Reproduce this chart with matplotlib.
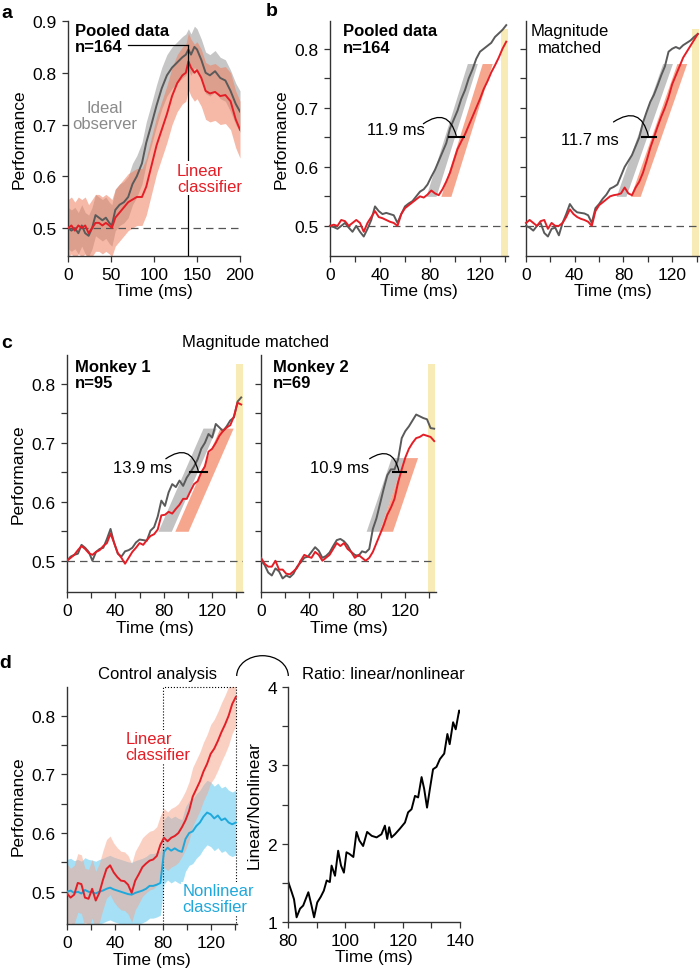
import numpy as np
import matplotlib
matplotlib.use("Agg")
import matplotlib.pyplot as plt
from matplotlib.patches import Arc

plt.rcParams['font.family'] = ['Liberation Sans', 'DejaVu Sans']
plt.rcParams['font.size'] = 12

# ---------------- data ----------------
# a: pooled data, 0-200 ms
a_t = [0, 4, 8, 12, 16, 20, 24, 28, 32, 36, 40, 44, 48, 51, 55, 60, 65, 70, 75, 80,
       86, 91, 97, 103, 109, 115, 121, 127, 133, 137, 140, 143, 147, 150,
       155, 160, 165, 171, 177, 183, 189, 195, 200]
a_ideal = [0.500, 0.495, 0.500, 0.490, 0.505, 0.490, 0.485, 0.500, 0.525, 0.520,
           0.515, 0.520, 0.510, 0.505, 0.535, 0.545, 0.550, 0.560, 0.585, 0.600,
           0.625, 0.665, 0.700, 0.737, 0.770, 0.795, 0.810, 0.820, 0.830, 0.835,
           0.845, 0.835, 0.850, 0.845, 0.825, 0.800, 0.795, 0.803, 0.790, 0.785,
           0.765, 0.740, 0.725]
a_linear = [0.500, 0.505, 0.495, 0.505, 0.500, 0.505, 0.490, 0.500, 0.510, 0.510,
            0.505, 0.510, 0.505, 0.500, 0.520, 0.530, 0.540, 0.550, 0.555, 0.560,
            0.560, 0.580, 0.620, 0.660, 0.690, 0.720, 0.755, 0.780, 0.795, 0.800,
            0.822, 0.810, 0.800, 0.805, 0.790, 0.765, 0.760, 0.763, 0.755, 0.757,
            0.745, 0.710, 0.690]
a_ideal_ci = 0.04
a_linear_ci = 0.055
a_peak = 0.854

# b: 0-141 ms
b_t = list(range(0, 144, 3))
b_ideal_pooled = [0.500, 0.498, 0.495, 0.500, 0.505, 0.497, 0.490, 0.500, 0.490, 0.482,
                  0.495, 0.510, 0.533, 0.525, 0.520, 0.522, 0.520, 0.518, 0.505, 0.520,
                  0.533, 0.538, 0.542, 0.550, 0.558, 0.562, 0.570, 0.583, 0.595, 0.610,
                  0.625, 0.640, 0.665, 0.680, 0.695, 0.715, 0.730, 0.750, 0.765, 0.783,
                  0.795, 0.800, 0.805, 0.810, 0.820, 0.826, 0.832, 0.840]
b_linear_pooled = [0.500, 0.502, 0.500, 0.510, 0.508, 0.500, 0.505, 0.510, 0.505, 0.490,
                   0.505, 0.515, 0.525, 0.515, 0.513, 0.510, 0.507, 0.505, 0.500, 0.520,
                   0.530, 0.535, 0.540, 0.545, 0.550, 0.548, 0.553, 0.560, 0.555, 0.552,
                   0.562, 0.575, 0.590, 0.610, 0.630, 0.643, 0.655, 0.670, 0.685, 0.700,
                   0.715, 0.732, 0.745, 0.760, 0.772, 0.785, 0.800, 0.812]
b_ideal_matched = [0.500, 0.497, 0.492, 0.500, 0.505, 0.488, 0.482, 0.495, 0.497, 0.484,
                   0.505, 0.520, 0.537, 0.528, 0.523, 0.522, 0.521, 0.518, 0.505, 0.530,
                   0.537, 0.546, 0.553, 0.563, 0.566, 0.570, 0.585, 0.600, 0.610, 0.620,
                   0.635, 0.650, 0.675, 0.693, 0.710, 0.722, 0.738, 0.755, 0.770, 0.795,
                   0.800, 0.803, 0.800, 0.806, 0.810, 0.814, 0.820, 0.825]
b_linear_matched = [0.505, 0.510, 0.505, 0.500, 0.508, 0.510, 0.495, 0.505, 0.500, 0.500,
                    0.505, 0.515, 0.528, 0.520, 0.515, 0.512, 0.510, 0.507, 0.500, 0.525,
                    0.535, 0.540, 0.545, 0.550, 0.552, 0.553, 0.555, 0.565, 0.555, 0.552,
                    0.565, 0.575, 0.590, 0.610, 0.632, 0.650, 0.668, 0.685, 0.700, 0.718,
                    0.740, 0.755, 0.770, 0.785, 0.795, 0.805, 0.815, 0.825]
# latency fits: (ideal time at 0.65, lag, slope, y from, y to, half width)
b_fit_pooled = (95.5, 11.9, 0.0068, 0.55, 0.775, 4.0)
b_fit_matched = (95.0, 11.7, 0.0059, 0.55, 0.775, 4.0)

# c: monkeys, 0-144 ms
c_t = list(range(0, 147, 3))
c_ideal_m1 = [0.500, 0.507, 0.510, 0.512, 0.527, 0.522, 0.515, 0.500, 0.515, 0.520,
              0.522, 0.537, 0.554, 0.530, 0.512, 0.507, 0.516, 0.518, 0.522, 0.531,
              0.536, 0.535, 0.534, 0.551, 0.557, 0.575, 0.602, 0.593, 0.616, 0.630,
              0.625, 0.636, 0.627, 0.641, 0.650, 0.660, 0.672, 0.690, 0.700, 0.715,
              0.709, 0.732, 0.726, 0.720, 0.728, 0.738, 0.743, 0.770, 0.777]
c_linear_m1 = [0.500, 0.505, 0.510, 0.518, 0.525, 0.520, 0.513, 0.510, 0.515, 0.518,
               0.525, 0.530, 0.546, 0.530, 0.513, 0.505, 0.495, 0.505, 0.515, 0.522,
               0.530, 0.527, 0.535, 0.542, 0.545, 0.553, 0.577, 0.578, 0.583, 0.580,
               0.588, 0.595, 0.605, 0.605, 0.618, 0.630, 0.635, 0.650, 0.660, 0.685,
               0.690, 0.700, 0.712, 0.720, 0.726, 0.730, 0.745, 0.768, 0.765]
c_ideal_m2 = [0.500, 0.493, 0.480, 0.475, 0.487, 0.482, 0.470, 0.475, 0.472, 0.478,
              0.490, 0.497, 0.505, 0.507, 0.515, 0.523, 0.517, 0.505, 0.508, 0.514,
              0.525, 0.535, 0.537, 0.533, 0.526, 0.515, 0.510, 0.508, 0.516, 0.514,
              0.520, 0.554, 0.572, 0.597, 0.622, 0.645, 0.655, 0.655, 0.672, 0.708,
              0.720, 0.728, 0.738, 0.748, 0.745, 0.742, 0.740, 0.725, 0.724]
c_linear_m2 = [0.505, 0.495, 0.490, 0.490, 0.500, 0.485, 0.485, 0.478, 0.477, 0.482,
               0.488, 0.500, 0.510, 0.507, 0.505, 0.515, 0.510, 0.500, 0.505, 0.510,
               0.520, 0.530, 0.525, 0.530, 0.520, 0.515, 0.505, 0.510, 0.505, 0.500,
               0.505, 0.515, 0.530, 0.545, 0.560, 0.578, 0.590, 0.605, 0.633, 0.655,
               0.675, 0.690, 0.700, 0.708, 0.710, 0.714, 0.712, 0.710, 0.703]
c_fit_m1 = (102.0, 13.9, 0.0047, 0.55, 0.725, 5.5)
c_fit_m2 = (109.6, 10.9, 0.0060, 0.55, 0.675, 5.5)

# d: control analysis, 0-141 ms
d_t = list(range(0, 144, 3))
d_linear = [0.497, 0.490, 0.495, 0.515, 0.513, 0.490, 0.488, 0.505, 0.485, 0.498,
            0.520, 0.539, 0.545, 0.533, 0.525, 0.519, 0.518, 0.512, 0.498, 0.519,
            0.530, 0.542, 0.548, 0.553, 0.555, 0.561, 0.580, 0.592, 0.586, 0.592,
            0.595, 0.600, 0.610, 0.622, 0.638, 0.662, 0.675, 0.688, 0.705, 0.718,
            0.735, 0.744, 0.757, 0.772, 0.785, 0.800, 0.820, 0.832]
d_nonlinear = [0.500, 0.502, 0.498, 0.500, 0.497, 0.503, 0.500, 0.499, 0.497, 0.500,
               0.502, 0.505, 0.507, 0.504, 0.502, 0.500, 0.498, 0.496, 0.495, 0.498,
               0.500, 0.502, 0.505, 0.510, 0.510, 0.512, 0.515, 0.568, 0.575, 0.570,
               0.574, 0.570, 0.568, 0.590, 0.600, 0.603, 0.612, 0.618, 0.628, 0.635,
               0.632, 0.625, 0.630, 0.622, 0.625, 0.618, 0.615, 0.618]
d_linear_ci = 0.05
d_nonlinear_ci = 0.055

ratio_t = [80.1, 81.3, 82.1, 83.0, 84.2, 85.3, 87.1, 88.2, 89.1, 90.2, 91.4, 92.5,
           93.5, 94.6, 95.2, 96.4, 97.5, 98.5, 99.5, 100.4, 101.4, 102.8, 103.9,
           104.9, 106.2, 107.6, 109.2, 110.9, 112.6, 113.8, 114.6, 115.3, 116.1,
           117.3, 119.0, 120.8, 121.9, 123.1, 124.3, 125.4, 126.6, 127.5, 128.5,
           129.5, 130.6, 131.8, 133.0, 134.5, 135.6, 136.4, 137.6, 138.5, 139.7, 140.0]
ratio = [1.51, 1.38, 1.29, 1.06, 1.17, 1.21, 1.38, 1.21, 1.06, 1.25, 1.32, 1.40,
         1.53, 1.51, 1.72, 1.59, 1.91, 1.72, 1.63, 1.89, 1.87, 1.83, 2.15, 2.04,
         1.97, 2.15, 2.10, 2.08, 2.12, 2.23, 2.06, 2.21, 2.08, 2.12, 2.19, 2.27,
         2.40, 2.44, 2.61, 2.59, 2.85, 2.70, 2.46, 2.70, 2.95, 2.98, 3.08, 3.15,
         3.40, 3.27, 3.55, 3.46, 3.70, 3.68]

# ---------------- styling ----------------
GRAY_LINE = '#5a5a5a'
RED = '#e41e26'
BLUE = '#1fa8dc'
YELLOW = '#f8ebb5'

W, H = 700.0, 970.0
fig = plt.figure(figsize=(7, 9.7), dpi=100)


def new_ax(x0, y0, x1, y1):
    return fig.add_axes([x0 / W, 1 - y1 / H, (x1 - x0) / W, (y1 - y0) / H])


def setup(ax, xlim, ylim, xmaj, ymaj, xmin=(), ymin=(), fmt='{:.1f}', show_y=True):
    ax.spines['top'].set_visible(False)
    ax.spines['right'].set_visible(False)
    for s in ('left', 'bottom'):
        ax.spines[s].set_linewidth(1.0)
        ax.spines[s].set_color('#333333')
    ax.set_xlim(*xlim)
    ax.set_ylim(*ylim)
    ax.set_xticks(xmaj)
    ax.set_xticklabels([str(v) for v in xmaj])
    ax.set_xticks(list(xmin), minor=True)
    ax.set_yticks(ymaj)
    ax.set_yticklabels([fmt.format(v) for v in ymaj])
    ax.set_yticks(list(ymin), minor=True)
    ax.tick_params(which='both', direction='out', length=4, width=0.9,
                   color='#333333', labelsize=12.5, pad=4)
    if not show_y:
        ax.tick_params(labelleft=False)
    ax.set_xlabel('Time (ms)', labelpad=1, fontsize=12.5)


def lag_fit(ax, fit):
    mid, lag, slope, ylo, yhi, hw = fit
    y = np.array([ylo, yhi])
    xg = mid + (y - 0.65) / slope
    ax.fill_betweenx(y, xg - hw, xg + hw, color='#c2c2c2', lw=0, zorder=1)
    ax.fill_betweenx(y, xg + lag - hw, xg + lag + hw, color='#f7a68e', lw=0, zorder=1)
    ax.plot([mid, mid + lag], [0.65, 0.65], color='k', lw=1.5, zorder=5)
    return mid + lag / 2


def yellow(ax, x0, x1, ybot):
    ax.fill_between([x0, x1], ybot, 0.834, color=YELLOW, lw=0, zorder=0)


def lag_label(ax, label, txy, start, end):
    ax.text(txy[0], txy[1], label, ha='center', va='center', fontsize=12, zorder=6)
    ax.annotate('', xy=end, xytext=start,
                arrowprops=dict(arrowstyle='-', color='k', lw=0.9, shrinkA=0, shrinkB=0,
                                connectionstyle='arc3,rad=-0.7'))


minor_t = [20, 60, 100, 140]
perf_ticks = [0.5, 0.6, 0.7, 0.8]
perf_minor = [0.55, 0.65, 0.75]

# ---------------- panel a ----------------
ax = new_ax(68, 22, 240, 257)
ylo = 0.446
setup(ax, (0, 200), (ylo, 0.9), [0, 50, 100, 150, 200], [0.5, 0.6, 0.7, 0.8, 0.9])
t = np.array(a_t)
gi = np.array(a_ideal)
li = np.array(a_linear)
ax.fill_between(t, gi - a_ideal_ci, gi + a_ideal_ci, color='#c6c6c6', lw=0, zorder=1)
ax.fill_between(t, li - a_linear_ci, li + a_linear_ci, color='#ef7f5f', alpha=0.55,
                lw=0, zorder=1)
ax.axhline(0.5, color='#555555', lw=0.9, dashes=(6, 4), zorder=2)
ax.plot(t, gi, color=GRAY_LINE, lw=1.4, zorder=3)
ax.plot(t, li, color=RED, lw=1.4, zorder=3)
ax.plot([140, 140], [ylo, a_peak], color='k', lw=0.9, zorder=4)
ax.plot([70, 140], [a_peak, a_peak], color='k', lw=0.9, zorder=4)
ax.set_ylabel('Performance', labelpad=4, fontsize=12.5)
ax.text(8, 0.897, 'Pooled data\nn=164', fontweight='bold', va='top', ha='left',
        linespacing=1.1)
ax.text(43, 0.717, 'Ideal\nobserver', color='#8a8a8a', ha='center', va='center',
        linespacing=1.1)
ax.text(126.5, 0.596, 'Linear\nclassifier', color=RED, ha='left', va='center',
        linespacing=1.1, zorder=6,
        bbox=dict(facecolor='white', edgecolor='none', pad=1))

# ---------------- panel b ----------------
b_ylim = (0.449, 0.847)
for x0, x1, gi, li, fit, lab, txt, start, show in [
        (330, 507.5, b_ideal_pooled, b_linear_pooled, b_fit_pooled, '11.9 ms',
         (53, 0.664), (74.7, 0.673), True),
        (526, 699, b_ideal_matched, b_linear_matched, b_fit_matched, '11.7 ms',
         (52.6, 0.647), (71.8, 0.676), False)]:
    ax = new_ax(x0, 22, x1, 257)
    setup(ax, (0, 142), b_ylim, [0, 40, 80, 120], perf_ticks, minor_t, perf_minor,
          show_y=show)
    yellow(ax, 136.5, 142, b_ylim[0])
    ax.axhline(0.5, color='#555555', lw=0.9, dashes=(6, 4), zorder=2)
    mid = lag_fit(ax, fit)
    ax.plot(b_t, gi, color=GRAY_LINE, lw=1.4, zorder=3, clip_on=False)
    ax.plot(b_t, li, color=RED, lw=1.4, zorder=3, clip_on=False)
    lag_label(ax, lab, txt, start, (mid - 0.5, 0.653))
    if show:
        ax.set_ylabel('Performance', labelpad=4, fontsize=12.5)
        ax.text(10.4, 0.843, 'Pooled data\nn=164', fontweight='bold', va='top',
                ha='left', linespacing=1.1)
    else:
        ax.text(36, 0.843, 'Magnitude\nmatched', va='top', ha='center',
                multialignment='center', linespacing=1.1)

# ---------------- panel c ----------------
c_ylim = (0.447, 0.849)
for x0, x1, gi, li, fit, lab, txt, start, title, show, band in [
        (67, 243, c_ideal_m1, c_linear_m1, c_fit_m1, '13.9 ms',
         (62.2, 0.658), (81.7, 0.673), 'Monkey 1\nn=95', True, (140, 145.5)),
        (261, 436, c_ideal_m2, c_linear_m2, c_fit_m2, '10.9 ms',
         (65.5, 0.658), (90.3, 0.673), 'Monkey 2\nn=69', False, (138.5, 144.5))]:
    ax = new_ax(x0, 356, x1, 593)
    setup(ax, (0, 145.5), c_ylim, [0, 40, 80, 120], perf_ticks, minor_t, perf_minor,
          show_y=show)
    yellow(ax, band[0], band[1], c_ylim[0])
    ax.axhline(0.5, color='#555555', lw=0.9, dashes=(6, 4), zorder=2)
    mid = lag_fit(ax, fit)
    ax.plot(c_t, gi, color=GRAY_LINE, lw=1.4, zorder=3)
    ax.plot(c_t, li, color=RED, lw=1.4, zorder=3)
    lag_label(ax, lab, txt, start, (mid - 0.5, 0.653))
    ax.text(6.6 if show else 10, 0.843, title, fontweight='bold', va='top', ha='left',
            linespacing=1.1)
    if show:
        ax.set_ylabel('Performance', labelpad=4, fontsize=12.5)
fig.text(255 / W, 1 - 342 / H, 'Magnitude matched', ha='center', va='center', fontsize=12)

# ---------------- panel d ----------------
ax = new_ax(67, 688, 237, 925)
d_ylim = (0.445, 0.849)
setup(ax, (0, 142), d_ylim, [0, 40, 80, 120], perf_ticks, minor_t, perf_minor)
t = np.array(d_t)
li = np.array(d_linear)
ni = np.array(d_nonlinear)
ax.fill_between(t, ni - d_nonlinear_ci, ni + d_nonlinear_ci, color='#4cc3ef', alpha=0.5,
                lw=0, zorder=1)
ax.fill_between(t, li - d_linear_ci, li + d_linear_ci, color='#f7a389', alpha=0.5,
                lw=0, zorder=1)
ax.plot([80, 80, 141, 141], [d_ylim[0], d_ylim[1], d_ylim[1], d_ylim[0]], color='k',
        lw=0.8, ls=':', zorder=2, clip_on=False)
ax.plot(t, ni, color=BLUE, lw=1.4, zorder=3)
ax.plot(t, li, color=RED, lw=1.4, zorder=3)
ax.set_ylabel('Performance', labelpad=4, fontsize=12.5)
ax.text(49, 0.747, 'Linear\nclassifier', color=RED, ha='left', va='center',
        linespacing=1.1, zorder=6, bbox=dict(facecolor='white', edgecolor='none', pad=1))
ax.text(96.5, 0.488, 'Nonlinear\nclassifier', color=BLUE, ha='left', va='center',
        linespacing=1.1, zorder=6, bbox=dict(facecolor='white', edgecolor='none', pad=1))

ax = new_ax(288, 688, 460, 923)
setup(ax, (80, 140), (1, 4), [80, 100, 120, 140], [1, 2, 3, 4], [90, 110, 130],
      [1.5, 2.5, 3.5], fmt='{:d}')
ax.plot(ratio_t, ratio, color='k', lw=1.4)
ax.set_ylabel('Linear/Nonlinear', labelpad=4, fontsize=12.5)

fig.text(157 / W, 1 - 675 / H, 'Control analysis', ha='center', va='center', fontsize=12)
fig.text(302 / W, 1 - 675 / H, 'Ratio: linear/nonlinear', ha='left', va='center',
         fontsize=12)
fig.add_artist(Arc((262.5 / W, 1 - 677 / H), 51.6 / W, 40.6 / H, theta1=0, theta2=180,
                   transform=fig.transFigure, color='k', lw=0.9))

# panel letters
for letter, x, y in [('a', 7, 14), ('b', 272, 11), ('c', 7, 344), ('d', 5, 663)]:
    fig.text(x / W, 1 - y / H, letter, fontweight='bold', fontsize=14, ha='center',
             va='center')

fig.savefig('out.png', dpi=100)
